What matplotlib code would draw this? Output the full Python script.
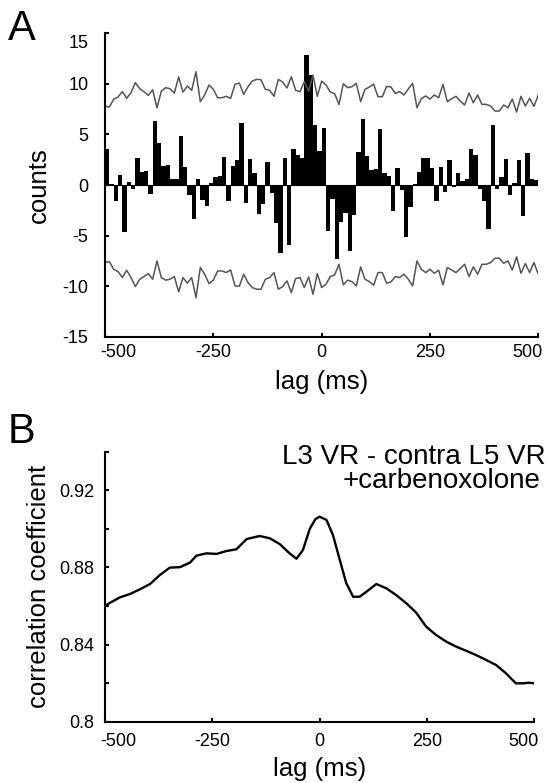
import numpy as np
import matplotlib
matplotlib.use("Agg")
import matplotlib.pyplot as plt
from matplotlib.transforms import ScaledTranslation

plt.rcParams['font.family'] = ['Liberation Sans', 'DejaVu Sans']

# panel A: cross-correlogram, 10 ms bins from -500 to 500
bin_left = np.arange(-500, 500, 10)
counts = [3.6, 0.1, -1.6, 1.0, -4.6, 0.3, -0.4, 2.7, 1.3, 1.4,
          -0.9, 6.3, 4.2, 1.9, 2.0, 0.6, 0.6, 4.8, 1.8, -1.0,
          -3.4, 0.6, -1.5, -2.1, 0.2, 0.75, 0.85, 2.75, -1.6, 1.9,
          2.5, 6.1, -1.8, 2.6, 1.2, -2.9, -1.9, 2.3, -0.75, -3.8,
          -6.7, 2.7, -5.9, 3.6, 3.0, 2.7, 12.9, 10.9, 5.9, 3.35,
          5.65, -4.5, -1.4, -7.3, -3.65, -2.8, -6.5, -2.95, 3.3, 6.5,
          2.9, 1.5, 1.6, 5.5, 1.2, 0.9, -2.6, 1.7, -0.5, -5.1,
          -2.2, 0.05, 1.3, 2.7, 2.7, 1.7, -1.6, 1.8, -0.65, 2.5,
          -0.2, 1.15, 0.35, 0.6, 3.6, 3.0, -0.4, -1.6, -4.4, 5.9,
          -0.4, 0.8, 2.6, -1.0, 0.2, 2.5, -3.1, 3.2, 0.55, 0.45]

# confidence bounds, one point every 10 ms
bound_lag = np.arange(-500, 501, 10)
upper = [7.81, 7.71, 8.47, 8.70, 9.23, 8.57, 9.13, 10.12, 9.52, 9.23,
         8.86, 9.42, 7.64, 9.29, 9.62, 9.52, 9.09, 10.68, 9.19, 9.79,
         9.36, 11.20, 8.24, 8.90, 9.89, 9.46, 8.63, 8.63, 8.77, 8.57,
         9.95, 10.08, 8.96, 9.72, 10.28, 10.45, 10.41, 9.46, 9.36, 8.77,
         10.45, 10.18, 9.59, 10.71, 9.36, 9.23, 10.22, 9.29, 10.87, 8.77,
         10.28, 9.89, 9.19, 9.03, 7.97, 10.02, 9.62, 9.72, 10.05, 8.24,
         9.46, 9.69, 9.98, 8.73, 8.73, 9.75, 9.69, 9.06, 9.23, 8.90,
         9.49, 10.05, 7.64, 8.53, 8.80, 8.50, 8.90, 8.63, 9.95, 8.24,
         8.53, 8.77, 8.30, 7.91, 9.09, 8.14, 8.90, 7.97, 7.97, 7.81,
         7.31, 7.31, 7.91, 7.64, 8.50, 7.21, 8.77, 7.81, 8.57, 7.78,
         8.90]
lower = [-7.67, -7.57, -8.33, -8.56, -9.15, -8.43, -9.15, -10.04, -9.32, -9.05,
         -8.76, -9.32, -7.51, -9.15, -9.41, -9.32, -9.05, -10.57, -9.15, -9.71,
         -9.15, -11.13, -8.16, -8.82, -9.75, -9.41, -8.50, -8.50, -8.66, -8.40,
         -9.98, -10.01, -8.82, -9.65, -10.14, -10.31, -10.31, -9.32, -9.15, -8.66,
         -10.31, -10.04, -9.48, -10.64, -9.25, -9.15, -10.14, -9.09, -10.80, -8.76,
         -10.14, -9.81, -9.05, -8.89, -7.84, -9.88, -9.41, -9.55, -9.98, -8.10,
         -9.32, -9.55, -9.91, -8.66, -8.66, -9.71, -9.58, -9.05, -9.15, -8.82,
         -9.32, -9.98, -7.51, -8.33, -8.66, -8.33, -8.73, -8.43, -9.88, -8.16,
         -8.40, -8.66, -8.26, -7.84, -9.05, -8.10, -8.82, -7.84, -7.84, -7.67,
         -7.24, -7.24, -7.74, -7.51, -8.40, -7.11, -8.73, -7.77, -8.66, -7.67,
         -8.82]

# panel B: correlation coefficient vs lag
lag_b = [-500, -488, -465, -442, -419, -395, -372, -349, -326, -302,
         -287, -264, -240, -217, -194, -170, -140, -116, -93, -70,
         -54, -39, -23, -10, 0, 16, 31, 47, 62, 78,
         93, 109, 132, 155, 178, 202, 225, 248, 271, 295,
         318, 341, 364, 388, 411, 434, 457, 473, 488, 500]
corr = [0.8601, 0.8617, 0.8645, 0.8662, 0.8686, 0.8714, 0.8761, 0.8799, 0.8801, 0.8825,
        0.8861, 0.8873, 0.8870, 0.8885, 0.8894, 0.8947, 0.8963, 0.8951, 0.8921, 0.8873,
        0.8845, 0.8890, 0.9000, 0.9050, 0.9063, 0.9046, 0.8968, 0.8838, 0.8718, 0.8648,
        0.8648, 0.8674, 0.8714, 0.8692, 0.8657, 0.8614, 0.8565, 0.8493, 0.8450, 0.8415,
        0.8389, 0.8368, 0.8346, 0.8320, 0.8294, 0.8251, 0.8199, 0.8199, 0.8202, 0.8199]

W, H = 549, 783
fig = plt.figure(figsize=(W / 100, H / 100), dpi=100)


def nudge(label, dx, dy):
    # shift a tick label by pixels
    label.set_transform(label.get_transform() + ScaledTranslation(dx / 100, dy / 100, fig.dpi_scale_trans))


def style(ax):
    for s in ['top', 'right']:
        ax.spines[s].set_visible(False)
    for s in ['left', 'bottom']:
        ax.spines[s].set_linewidth(1.5)
    ax.tick_params(which='both', direction='in', length=3, width=1.5, labelsize=13)


# ---- A ----
axA = fig.add_axes([105 / W, 1 - 336.7 / H, 433.3 / W, 303.4 / H])
axA.bar(bin_left, counts, width=10, align='edge', color='black', linewidth=0)
axA.axhline(0, color='black', lw=0.8)
axA.plot(bound_lag, upper, color='#555555', lw=1.1)
axA.plot(bound_lag, lower, color='#555555', lw=1.1)
axA.set_xlim(-500, 500)
axA.set_ylim(-15, 15)
axA.set_xticks([-500, -250, 0, 250, 500])
axA.set_xticklabels(['-500', '-250', '0', '250', '500'])
axA.set_yticks([-15, -10, -5, 0, 5, 10, 15])
axA.set_yticklabels(['-15', '-10', '-5', '0', '5', '10', '15'])
style(axA)
axA.tick_params(axis='y', pad=12)
axA.tick_params(axis='x', pad=5)
axA.set_xlabel('lag (ms)', fontsize=18.5, labelpad=7)
axA.set_ylabel('counts', fontsize=18.5)
axA.yaxis.set_label_coords(-0.125, 0.5)
xl = axA.get_xticklabels()
nudge(xl[0], 13, 0)
nudge(xl[-1], -11, 0)
yl = axA.get_yticklabels()
nudge(yl[-1], 0, -8)

# ---- B ----
axB = fig.add_axes([105 / W, 1 - 721.7 / H, 429.3 / W, 270 / H])
axB.plot(lag_b, corr, color='black', lw=1.7, solid_joinstyle='round')
axB.set_xlim(-500, 500)
axB.set_ylim(0.8, 0.94)
axB.set_xticks([-500, -250, 0, 250, 500])
axB.set_xticklabels(['-500', '-250', '0', '250', '500'])
axB.set_yticks([0.8, 0.84, 0.88, 0.92])
axB.set_yticklabels(['0.8', '0.84', '0.88', '0.92'])
axB.set_yticks([0.82, 0.86, 0.90, 0.94], minor=True)
style(axB)
axB.tick_params(axis='y', pad=8)
axB.tick_params(axis='x', pad=8)
axB.set_xlabel('lag (ms)', fontsize=18.5, labelpad=5)
axB.set_ylabel('correlation coefficient', fontsize=18.5)
axB.yaxis.set_label_coords(-0.125, 0.5)
xl = axB.get_xticklabels()
nudge(xl[0], 13, 0)
nudge(xl[-1], -11, 0)

fig.text(546 / W, 1 - 464.3 / H, 'L3 VR - contra L5 VR', ha='right', va='baseline', fontsize=20)
fig.text(541 / W, 1 - 488.3 / H, '+carbenoxolone', ha='right', va='baseline', fontsize=20)

fig.text(8 / W, 1 - 40 / H, 'A', ha='left', va='baseline', fontsize=30)
fig.text(8 / W, 1 - 443 / H, 'B', ha='left', va='baseline', fontsize=30)

fig.savefig('out.png', dpi=100)
